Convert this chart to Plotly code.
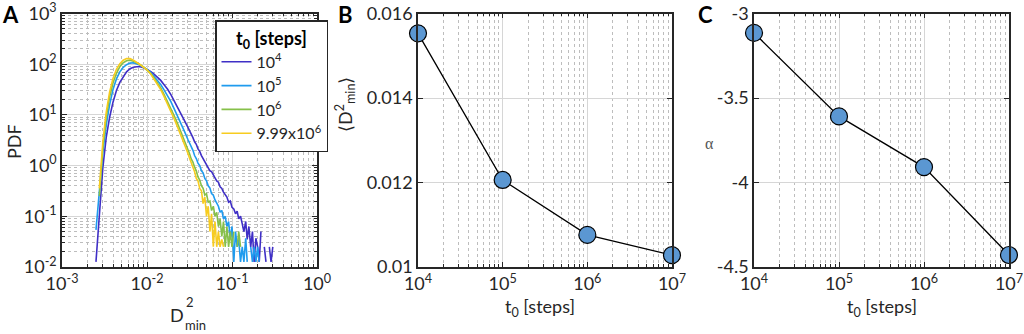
import plotly.graph_objects as go

# ---------------- Panel A data: PDF of D2min for several t0 ----------------
d2min = [0.00251, 0.00275, 0.00302, 0.00331, 0.00363, 0.00398, 0.00437, 0.00479,
         0.00525, 0.00575, 0.00631, 0.00692, 0.00759, 0.00832, 0.00912, 0.0100,
         0.0110, 0.0120, 0.0132, 0.0145, 0.0158, 0.0174, 0.0191, 0.0209,
         0.0229, 0.0251, 0.0275, 0.0302,
         0.0316, 0.0331, 0.0347, 0.0363, 0.0380, 0.0398, 0.0417, 0.0437, 0.0457, 0.0479,
         0.0501, 0.0525, 0.0550, 0.0575, 0.0603, 0.0631, 0.0661, 0.0692, 0.0724, 0.0759,
         0.0794, 0.0832, 0.0871, 0.0912, 0.0955, 0.100, 0.105, 0.110, 0.115, 0.120,
         0.126, 0.132, 0.138, 0.145, 0.151, 0.158, 0.166, 0.174, 0.182, 0.191,
         0.200, 0.209, 0.219, 0.229, 0.240, 0.251, 0.263, 0.275, 0.288, 0.302]

pdf_t1e4 = [0.0126, 0.112, 0.89, 3.55, 8.9, 17.8, 30.2, 43.7,
            57.5, 70.8, 81.3, 87.1, 89.1, 89.1, 85.1, 79.4,
            72.4, 64.6, 56.2, 47.9, 39.8, 32.4, 25.1, 19.1,
            14.5, 10.7, 7.76, 5.75,
            5.0, 4.17, 3.55, 2.95, 2.63, 2.14, 1.91, 1.58, 1.38, 1.20,
            1.00, 0.93, 0.79, 0.76, 0.63, 0.575, 0.50, 0.47, 0.38, 0.355,
            0.30, 0.263, 0.24, 0.19, 0.20, 0.15, 0.14, 0.112, 0.126, 0.089,
            0.10, 0.071, 0.05, 0.079, 0.035, 0.063, 0.025, 0.05, 0.0126, 0.037,
            0.025, 0.0126, 0.05, None, 0.025, 0.0126, None, 0.025, 0.0126, 0.025]

pdf_t1e5 = [0.054, 0.28, 1.78, 6.3, 15.8, 31.6, 51.3, 70.8,
            87.1, 97.7, 105, 107, 102, 95.5, 87.1, 79.4,
            69.2, 58.9, 49.0, 39.8, 31.6, 24.0, 18.2, 13.2,
            9.55, 6.76, 4.79, 3.31,
            2.82, 2.29, 2.0, 1.58, 1.38, 1.12, 1.0, 0.79, 0.72, 0.56,
            0.50, 0.40, 0.36, 0.28, 0.26, 0.21, 0.178, 0.158, 0.12, 0.13,
            0.089, 0.10, 0.063, 0.079, 0.035, 0.063, 0.0126, 0.05, 0.025, 0.035,
            0.0126, 0.025, 0.0126, 0.037, 0.0126, None, 0.025, 0.0126, 0.025, 0.0126,
            0.025, 0.0126, None, None, None, None, None, None, None, None]

pdf_t1e6 = [None, 0.25, 2.24, 8.9, 22.4, 42.7, 66.1, 89.1,
            107, 117, 120, 115, 107, 97.7, 87.1, 77.6,
            66.1, 55.0, 43.7, 33.9, 25.7, 18.6, 13.5, 9.55,
            6.76, 4.68, 3.16, 2.09,
            1.74, 1.35, 1.17, 0.93, 0.79, 0.60, 0.52, 0.40, 0.355, 0.263,
            0.28, 0.19, 0.20, 0.13, 0.158, 0.10, 0.12, 0.063, 0.089, 0.04,
            0.079, 0.025, 0.063, 0.025, 0.05, 0.025, 0.05, None, 0.025, 0.05,
            0.025, None, None, None, None, None, None, None, None, None,
            None, None, None, None, None, None, None, None, None, None]

pdf_t999e6 = [None, 0.355, 2.82, 11.2, 28.2, 52.5, 79.4, 102,
              120, 129, 129, 120, 110, 97.7, 87.1, 77.6,
              64.6, 52.5, 41.7, 31.6, 23.4, 16.6, 11.7, 8.3,
              5.75, 3.98, 2.69, 1.78,
              1.41, 1.15, 0.89, 0.76, 0.56, 0.50, 0.355, 0.32, 0.178, 0.24,
              0.10, 0.158, 0.05, 0.112, 0.025, 0.079, 0.025, 0.05, 0.025, 0.035,
              0.025, None, None, None, None, None, None, None, None, None,
              None, None, None, None, None, None, None, None, None, None,
              None, None, None, None, None, None, None, None, None, None]

series_labels = ["10<sup>4</sup>", "10<sup>5</sup>", "10<sup>6</sup>", "9.99x10<sup>6</sup>"]
series_colors = ["#3F2FC6", "#1F9BEE", "#86C049", "#F7CC1F"]

# ---------------- Panels B and C data ----------------
t0_steps = [1e4, 1e5, 1e6, 9.99e6]
mean_d2min = [0.01553, 0.01206, 0.01076, 0.01028]
alpha_exp = [-3.115, -3.609, -3.909, -4.429]

# ---------------- figure ----------------
W, H = 1024, 334
FONT = "Lato"
TXT = "#262626"
MAJ = "#d6d6d6"
MIN = "#bdbdbd"
TFS = 18

fig = go.Figure()
for ys, lab, col in zip([pdf_t1e4, pdf_t1e5, pdf_t1e6, pdf_t999e6], series_labels, series_colors):
    fig.add_trace(go.Scatter(x=d2min, y=ys, mode="lines", name=lab,
                             line=dict(color=col, width=1.6), connectgaps=False,
                             xaxis="x", yaxis="y"))

marker = dict(size=17, color="#5B97D2", line=dict(color="black", width=1.2))
fig.add_trace(go.Scatter(x=t0_steps, y=mean_d2min, mode="lines+markers", showlegend=False,
                         line=dict(color="black", width=1.3), marker=marker,
                         cliponaxis=False, xaxis="x2", yaxis="y2"))
fig.add_trace(go.Scatter(x=t0_steps, y=alpha_exp, mode="lines+markers", showlegend=False,
                         line=dict(color="black", width=1.3), marker=marker,
                         cliponaxis=False, xaxis="x3", yaxis="y3"))


def px_x(p):
    return p / W


def px_y(p):
    return (H - p) / H


def minors(lo, hi):
    return [m * 10 ** e for e in range(lo, hi) for m in range(2, 10)]


def log_axis(lo, hi, domain, anchor):
    return dict(type="log", range=[lo, hi], domain=domain, anchor=anchor, automargin=False,
                tickvals=[10 ** e for e in range(lo, hi + 1)],
                ticktext=["10<sup>%d</sup>" % e for e in range(lo, hi + 1)],
                ticks="inside", ticklen=5, tickcolor=TXT, mirror="allticks",
                showline=True, linecolor=TXT, linewidth=1.5,
                showgrid=True, gridcolor=MAJ, gridwidth=1,
                minor=dict(tickvals=minors(lo, hi), ticks="inside", ticklen=3, tickcolor=TXT,
                           showgrid=True, gridcolor=MIN, griddash="dot", gridwidth=1),
                tickfont=dict(family=FONT, size=TFS, color=TXT), zeroline=False)


yA_dom = [px_y(267), px_y(13.5)]
axA = log_axis(-3, 0, [px_x(62), px_x(317)], "y")
ayA = log_axis(-2, 3, yA_dom, "x")
axB = log_axis(4, 7, [px_x(418), px_x(672)], "y2")
axC = log_axis(4, 7, [px_x(754), px_x(1009)], "y3")


def lin_axis(lo, hi, vals, text, anchor):
    return dict(range=[lo, hi], domain=yA_dom, anchor=anchor, tickvals=vals, ticktext=text,
                automargin=False,
                ticks="inside", ticklen=5, tickcolor=TXT, mirror="allticks",
                showline=True, linecolor=TXT, linewidth=1.5,
                showgrid=True, gridcolor=MAJ, gridwidth=1, zeroline=False,
                tickfont=dict(family=FONT, size=TFS, color=TXT))


ayB = lin_axis(0.01, 0.016, [0.01, 0.012, 0.014, 0.016], ["0.01", "0.012", "0.014", "0.016"], "x2")
ayC = lin_axis(-4.5, -3, [-4.5, -4, -3.5, -3], ["-4.5", "-4", "-3.5", "-3"], "x3")

fig.update_layout(
    width=W, height=H, margin=dict(l=0, r=0, t=0, b=0, autoexpand=False),
    paper_bgcolor="white", plot_bgcolor="white",
    font=dict(family=FONT, color=TXT),
    xaxis=axA, yaxis=ayA, xaxis2=axB, yaxis2=ayB, xaxis3=axC, yaxis3=ayC,
    legend=dict(x=px_x(215), y=px_y(20), xanchor="left", yanchor="top",
                bgcolor="white", bordercolor=TXT, borderwidth=1.5,
                font=dict(family=FONT, size=16, color=TXT),
                title=dict(text="<b>t<sub>0</sub> [steps]</b>", side="top center",
                           font=dict(family=FONT, size=18, color="black")),
                itemwidth=30, tracegroupgap=0),
    shapes=[dict(type="line", xref="paper", yref="paper", x0=px_x(215), x1=px_x(314),
                 y0=px_y(51), y1=px_y(51), line=dict(color=TXT, width=1.5))],
)

ann = []


def add_text(x, y, text, size=TFS, angle=0, bold=False, family=FONT, color=TXT):
    ann.append(dict(x=px_x(x), y=px_y(y), xref="paper", yref="paper", text=("<b>%s</b>" % text) if bold else text,
                    showarrow=False, textangle=angle, xanchor="center", yanchor="middle",
                    font=dict(family=family, size=size, color=color)))


# panel letters
add_text(10, 15, "A", size=22, bold=True, color="black")
add_text(345, 15, "B", size=22, bold=True, color="black")
add_text(705, 15, "C", size=22, bold=True, color="black")
# axis titles
add_text(14, 142, "PDF", angle=-90)
add_text(177, 315, "D", size=TFS)
add_text(190, 302, "2", size=13)
add_text(195, 325, "min", size=13)
add_text(345, 105, "⟨D<sup>2</sup><sub>min</sub>⟩", angle=-90)
add_text(709, 143, "α", size=16, family="Liberation Serif", color="#555555")
add_text(540, 307, "t<sub>0</sub> [steps]")
add_text(882, 307, "t<sub>0</sub> [steps]")
fig.update_layout(annotations=ann)

fig.write_html("out.html", config={"displayModeBar": False},
               post_script="document.body.style.margin='0';document.body.style.padding='0';")
